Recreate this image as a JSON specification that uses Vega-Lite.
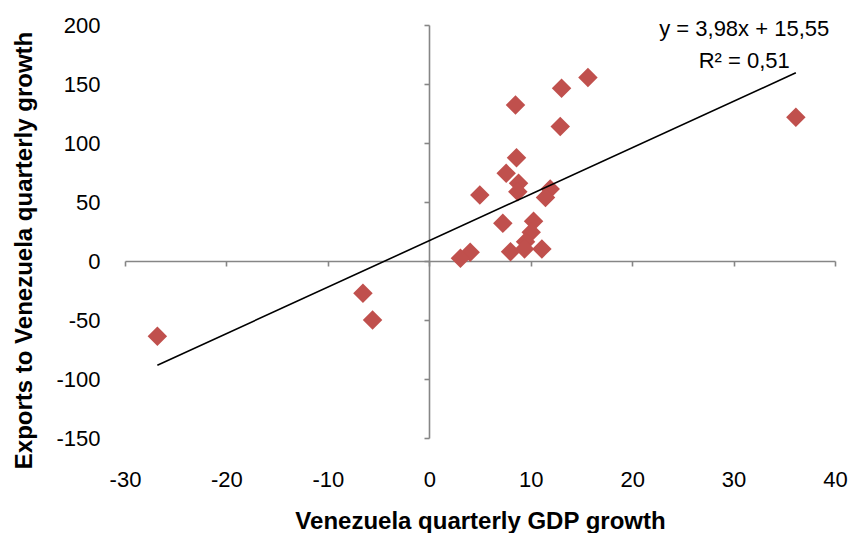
{
  "$schema": "https://vega.github.io/schema/vega-lite/v6.json",
  "width": 710,
  "height": 413,
  "autosize": "none",
  "padding": {"left": 125, "top": 25, "right": 18, "bottom": 95},
  "config": {
    "view": {"stroke": null},
    "font": "Liberation Sans",
    "axis": {"grid": false, "labelFont": "Liberation Sans", "titleFont": "Liberation Sans"}
  },
  "datasets": {
    "pts": [
      {"gdp": 15.64, "exports": 155.5},
      {"gdp": 13.04, "exports": 146.5},
      {"gdp": 8.5, "exports": 132.3},
      {"gdp": 12.91, "exports": 114.0},
      {"gdp": 8.6, "exports": 87.5},
      {"gdp": 7.58, "exports": 74.3},
      {"gdp": 8.8, "exports": 65.8},
      {"gdp": 8.73, "exports": 58.7},
      {"gdp": 11.92, "exports": 61.0},
      {"gdp": 11.46, "exports": 53.9},
      {"gdp": 4.98, "exports": 55.9},
      {"gdp": 7.25, "exports": 31.9},
      {"gdp": 10.28, "exports": 33.6},
      {"gdp": 10.05, "exports": 24.3},
      {"gdp": 9.49, "exports": 16.3},
      {"gdp": 9.39, "exports": 10.2},
      {"gdp": 8.01, "exports": 7.9},
      {"gdp": 11.1, "exports": 10.2},
      {"gdp": 4.03, "exports": 7.4},
      {"gdp": 3.07, "exports": 2.3},
      {"gdp": -26.81, "exports": -63.8},
      {"gdp": -6.54, "exports": -27.4},
      {"gdp": -5.59, "exports": -50.0},
      {"gdp": 36.14, "exports": 121.9}
    ],
    "notes": [
      {"label": "y = 3,98x +  15,55", "gx": 31.05, "ey": 196.4},
      {"label": "R² = 0,51", "gx": 31.05, "ey": 169.2}
    ]
  },
  "resolve": {"axis": {"x": "independent", "y": "independent"}},
  "layer": [
    {
      "data": {"name": "pts"},
      "mark": {"type": "point", "shape": "diamond", "filled": true, "size": 380, "color": "#C0504D", "opacity": 1},
      "encoding": {
        "x": {
          "field": "gdp", "type": "quantitative",
          "scale": {"domain": [-30, 40], "nice": false, "zero": false},
          "axis": {
            "orient": "bottom", "values": [-30, -20, -10, 0, 10, 20, 30, 40],
            "labelExpr": "datum.value < 0 ? '-' + abs(datum.value) : '' + datum.value",
            "domain": false, "ticks": false, "tickSize": 0,
            "labelPadding": 31, "labelFontSize": 22, "labelColor": "#000000",
            "labelFlush": false, "labelOverlap": false,
            "title": "Venezuela quarterly GDP growth", "titleFontSize": 24, "titleFontWeight": "bold",
            "titleColor": "#000000", "titleBaseline": "alphabetic", "titleY": 90
          }
        },
        "y": {
          "field": "exports", "type": "quantitative",
          "scale": {"domain": [-150, 200], "nice": false, "zero": false},
          "axis": {
            "orient": "left", "values": [-150, -100, -50, 0, 50, 100, 150, 200],
            "labelExpr": "datum.value < 0 ? '-' + abs(datum.value) : '' + datum.value",
            "domain": false, "ticks": false, "tickSize": 0,
            "labelPadding": 25, "labelFontSize": 22, "labelColor": "#000000",
            "labelFlush": false, "labelOverlap": false,
            "title": "Exports to Venezuela quarterly growth", "titleFontSize": 24, "titleFontWeight": "bold",
            "titleColor": "#000000", "titleBaseline": "alphabetic", "titleAngle": 270,
            "titleX": -94, "titleY": 225
          }
        }
      }
    },
    {
      "data": {"name": "pts"},
      "transform": [{"regression": "exports", "on": "gdp"}],
      "mark": {"type": "line", "color": "#000000", "strokeWidth": 1.6},
      "encoding": {
        "x": {
          "field": "gdp", "type": "quantitative",
          "axis": {
            "orient": "bottom", "offset": -177, "values": [-30, -20, -10, 0, 10, 20, 30, 40],
            "domain": true, "domainColor": "#868686", "domainWidth": 1.6,
            "ticks": true, "tickColor": "#868686", "tickWidth": 1.6, "tickSize": 5,
            "labels": false, "title": null
          }
        },
        "y": {
          "field": "exports", "type": "quantitative",
          "axis": {
            "orient": "left", "offset": -304, "values": [-150, -100, -50, 0, 50, 100, 150, 200],
            "domain": true, "domainColor": "#868686", "domainWidth": 1.6,
            "ticks": true, "tickColor": "#868686", "tickWidth": 1.6, "tickSize": 5,
            "labels": false, "title": null
          }
        }
      }
    },
    {
      "data": {"name": "notes"},
      "mark": {"type": "text", "font": "Liberation Sans", "fontSize": 22, "color": "#000000", "align": "center", "baseline": "middle"},
      "encoding": {
        "x": {"field": "gx", "type": "quantitative", "axis": null},
        "y": {"field": "ey", "type": "quantitative", "axis": null},
        "text": {"field": "label"}
      }
    }
  ]
}
